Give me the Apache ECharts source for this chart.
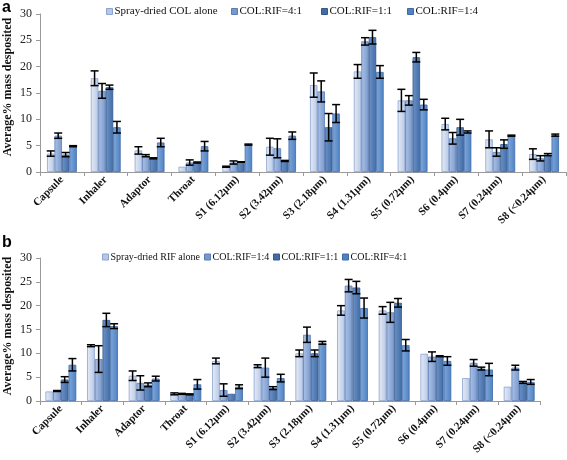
<!DOCTYPE html>
<html>
<head>
<meta charset="utf-8">
<script src="https://cdn.jsdelivr.net/npm/echarts@6/dist/echarts.min.js"></script>
<style>html,body{margin:0;padding:0;background:#fff}#c{width:567px;height:460px}</style>
</head>
<body>
<div id="c"></div>
<script>
var categories = ['Capsule','Inhaler','Adaptor','Throat','S1 (6.12μm)','S2 (3.42μm)','S3 (2.18μm)','S4 (1.31μm)','S5 (0.72μm)','S6 (0.4μm)','S7 (0.24μm)','S8 (<0.24μm)'];

// Panel a
var aNames = ['Spray-dried COL alone','COL:RIF=4:1','COL:RIF=1:1','COL:RIF=1:4'];
var aColAlone = [3.5, 17.8, 4.1, 1.0, 1.0, 4.8, 16.5, 19.1, 13.6, 9.1, 6.2, 3.4];
var aRif41    = [6.9, 15.4, 3.1, 1.8, 1.8, 4.5, 15.3, 24.8, 13.6, 6.4, 3.8, 2.6];
var aRif11    = [3.3, 16.1, 2.6, 1.8, 1.9, 2.1, 8.5, 25.6, 21.8, 8.5, 5.3, 3.3];
var aRif14    = [4.9, 8.5, 5.6, 4.9, 5.2, 6.9, 11.1, 19.0, 12.8, 7.6, 6.9, 7.0];
var aErrColAlone = [0.5, 1.4, 0.7, 0.0, 0.1, 1.6, 2.3, 1.3, 2.1, 1.1, 1.6, 1.0];
var aErrRif41    = [0.5, 1.4, 0.2, 0.5, 0.3, 1.8, 2.0, 0.7, 0.9, 1.1, 0.8, 0.5];
var aErrRif11    = [0.4, 0.4, 0.1, 0.1, 0.05, 0.1, 2.6, 1.3, 0.9, 1.5, 0.8, 0.2];
var aErrRif14    = [0.1, 1.1, 0.8, 0.9, 0.1, 0.7, 1.7, 1.2, 1.0, 0.2, 0.1, 0.2];

// Panel b
var bNames = ['Spray-dried RIF alone','COL:RIF=1:4','COL:RIF=1:1','COL:RIF=4:1'];
var bRifAlone = [2.0, 11.6, 5.3, 1.5, 8.4, 7.3, 10.0, 19.0, 19.0, 9.9, 4.8, 3.0];
var bRif14    = [2.1, 8.8, 3.8, 1.5, 2.3, 7.0, 13.9, 24.2, 18.6, 9.3, 8.0, 7.0];
var bRif11    = [4.5, 17.0, 3.4, 1.4, 1.5, 2.7, 10.0, 23.8, 20.6, 9.4, 6.8, 3.9];
var bRif41    = [7.6, 15.7, 4.7, 3.5, 3.0, 4.8, 12.2, 19.5, 11.7, 8.4, 6.6, 4.0];
var bErrRifAlone = [0.0, 0.2, 1.0, 0.2, 0.6, 0.3, 0.7, 1.0, 0.8, 0.0, 0.0, 0.0];
var bErrRif14    = [0.1, 2.8, 1.5, 0.1, 1.3, 2.0, 1.6, 1.3, 2.1, 1.0, 0.7, 0.5];
var bErrRif11    = [0.6, 1.4, 0.4, 0.1, 0.0, 0.3, 0.7, 1.3, 0.9, 0.1, 0.3, 0.2];
var bErrRif41    = [1.3, 0.5, 0.5, 1.0, 0.4, 0.8, 0.3, 2.1, 1.2, 0.9, 1.3, 0.5];

var yMin = 0, yMax = 30, yStep = 5;
var yName = 'Average% mass desposited';

var serif = 'Liberation Serif';
var fills = [
  ['#e6ecf7', '#b7c8e6', '#8aa3cf'],
  ['#adc3e6', '#7898cc', '#5a7db8'],
  ['#6d94c9', '#416ca6', '#36598c'],
  ['#80a8dc', '#4f82c2', '#3f6aa6']
];
function grad(i) {
  return new echarts.graphic.LinearGradient(0, 0, 1, 0, [
    {offset: 0, color: fills[i][0]}, {offset: 1, color: fills[i][1]}
  ]);
}

var gapA = 0.32, gapB = 0.26;

function barSeries(name, data, i, axisIdx, gap) {
  return {
    type: 'bar', name: name, data: data,
    xAxisIndex: axisIdx, yAxisIndex: axisIdx,
    barGap: '0%', barCategoryGap: (gap * 100) + '%',
    itemStyle: {color: grad(i), borderColor: fills[i][2], borderWidth: 0.8},
    emphasis: {disabled: true}
  };
}

function errData(vals, errs) {
  var out = [];
  for (var k = 0; k < vals.length; k++) {
    for (var c = 0; c < categories.length; c++) {
      out.push([c, k, vals[k][c], errs[k][c]]);
    }
  }
  return out;
}

function errSeries(data, axisIdx, gap) {
  return {
    type: 'custom', xAxisIndex: axisIdx, yAxisIndex: axisIdx, z: 5,
    silent: true,
    data: data,
    encode: {x: 0, y: 2},
    renderItem: function (params, api) {
      var c = api.value(0), k = api.value(1), v = api.value(2), e = api.value(3);
      if (!e) return null;
      var center = api.coord([c, v]);
      var band = api.size([1, 0])[0];
      var groupW = band * (1 - gap);
      var barW = groupW / 4;
      var x = center[0] - groupW / 2 + barW * (k + 0.5);
      var yT = api.coord([c, v + e])[1];
      var yB = api.coord([c, v - e])[1];
      var hw = 4;
      var st = {stroke: '#000', lineWidth: 1.5};
      return {
        type: 'group',
        children: [
          {type: 'line', shape: {x1: x, y1: yT, x2: x, y2: yB}, style: st},
          {type: 'line', shape: {x1: x - hw, y1: yT, x2: x + hw, y2: yT}, style: st},
          {type: 'line', shape: {x1: x - hw, y1: yB, x2: x + hw, y2: yB}, style: st}
        ]
      };
    }
  };
}

function yAxisCfg(idx) {
  return {
    gridIndex: idx, type: 'value', min: yMin, max: yMax, interval: yStep,
    axisLine: {show: true, lineStyle: {color: '#9a9a9a'}},
    axisTick: {show: true, length: 4, lineStyle: {color: '#9a9a9a'}},
    splitLine: {show: false},
    axisLabel: {fontFamily: serif, fontSize: 12, color: '#222', margin: 8}
  };
}
function xAxisCfg(idx) {
  return {
    gridIndex: idx, type: 'category', data: categories,
    axisLine: {show: true, lineStyle: {color: '#9a9a9a'}},
    axisTick: {show: true, length: 4, lineStyle: {color: '#9a9a9a'}},
    axisLabel: {rotate: 45, interval: 0, fontFamily: serif, fontWeight: 'bold', fontSize: 11, color: '#111', margin: 6}
  };
}

function legendItem(name, i, left, top, fs) {
  return {
    left: left, top: top, itemWidth: 6, itemHeight: 6, padding: 0, itemGap: 0,
    icon: 'rect',
    textStyle: {fontFamily: serif, fontSize: fs, color: '#111', padding: [0, 0, 0, -3]},
    data: [{name: name, itemStyle: {color: fills[i][1], borderColor: fills[i][2], borderWidth: 1}}],
    selectedMode: false
  };
}

var aVals = [aColAlone, aRif41, aRif11, aRif14];
var aErrs = [aErrColAlone, aErrRif41, aErrRif11, aErrRif14];
var bVals = [bRifAlone, bRif14, bRif11, bRif41];
var bErrs = [bErrRifAlone, bErrRif14, bErrRif11, bErrRif41];

var series = [];
for (var i = 0; i < 4; i++) series.push(barSeries(aNames[i], aVals[i], i, 0, gapA));
series.push(errSeries(errData(aVals, aErrs), 0, gapA));
for (var j = 0; j < 4; j++) series.push(barSeries(bNames[j], bVals[j], j, 1, gapB));
series.push(errSeries(errData(bVals, bErrs), 1, gapB));

var aLegLeft = [106, 231, 321, 407];
var bLegLeft = [102, 204, 273, 342];
var legends = [];
for (var m = 0; m < 4; m++) legends.push(legendItem(aNames[m], m, aLegLeft[m], 6, 11));
for (var n = 0; n < 4; n++) legends.push(legendItem(bNames[n], n, bLegLeft[n], 252, 10));

var chart = echarts.init(document.getElementById('c'), null, {renderer: 'canvas'});
chart.setOption({
  animation: false,
  backgroundColor: '#fff',
  grid: [
    {left: 40, top: 14, width: 526, height: 158},
    {left: 40, top: 258, width: 500, height: 143}
  ],
  xAxis: [xAxisCfg(0), xAxisCfg(1)],
  yAxis: [yAxisCfg(0), yAxisCfg(1)],
  legend: legends,
  graphic: [
    {type: 'text', left: 2, top: 0, style: {text: 'a', font: 'bold 16px "Liberation Sans", Arial, sans-serif', fill: '#000'}},
    {type: 'text', left: 2, top: 235, style: {text: 'b', font: 'bold 16px "Liberation Sans", Arial, sans-serif', fill: '#000'}},
    {type: 'text', x: 8, y: 87, rotation: Math.PI / 2, style: {text: yName, font: 'bold 12px "Liberation Serif"', fill: '#111', align: 'center', verticalAlign: 'middle'}},
    {type: 'text', x: 8, y: 326, rotation: Math.PI / 2, style: {text: yName, font: 'bold 12px "Liberation Serif"', fill: '#111', align: 'center', verticalAlign: 'middle'}}
  ],
  series: series
});
</script>
</body>
</html>
